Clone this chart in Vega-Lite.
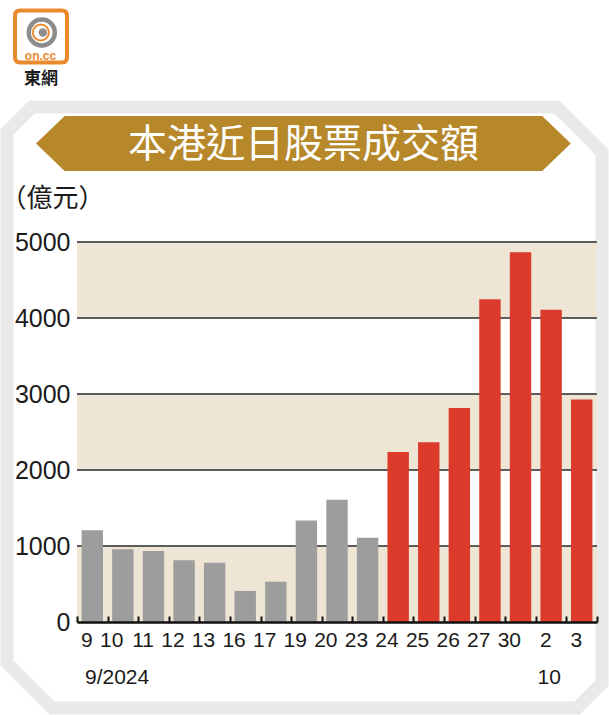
{
  "$schema": "https://vega.github.io/schema/vega-lite/v6.json",
  "width": 520,
  "height": 380,
  "autosize": {"type": "none"},
  "padding": {"left": 77, "top": 242, "right": 12, "bottom": 93},
  "background": "white",
  "config": {"view": {"stroke": null}},
  "datasets": {
    "turnover": [
      {"day": "9", "value": 1206, "phase": "before"},
      {"day": "10", "value": 956, "phase": "before"},
      {"day": "11", "value": 933, "phase": "before"},
      {"day": "12", "value": 811, "phase": "before"},
      {"day": "13", "value": 780, "phase": "before"},
      {"day": "16", "value": 408, "phase": "before"},
      {"day": "17", "value": 530, "phase": "before"},
      {"day": "19", "value": 1336, "phase": "before"},
      {"day": "20", "value": 1607, "phase": "before"},
      {"day": "23", "value": 1108, "phase": "before"},
      {"day": "24", "value": 2238, "phase": "after"},
      {"day": "25", "value": 2365, "phase": "after"},
      {"day": "26", "value": 2816, "phase": "after"},
      {"day": "27", "value": 4248, "phase": "after"},
      {"day": "30", "value": 4866, "phase": "after"},
      {"day": "2", "value": 4109, "phase": "after"},
      {"day": "3", "value": 2926, "phase": "after"}
    ],
    "bands": [{"lo": 0, "hi": 1000}, {"lo": 2000, "hi": 3000}, {"lo": 4000, "hi": 5000}],
    "grid": [{"v": 1000}, {"v": 2000}, {"v": 3000}, {"v": 4000}, {"v": 5000}],
    "mid": [{"day": "19"}],
    "first": [{"day": "9"}]
  },
  "layer": [
    {
      "data": {"name": "mid"},
      "mark": {"type": "point", "shape": "M-0.895,-0.987L0.829,-0.987L0.977,-0.839L0.977,0.905L0.895,0.987L-0.829,0.987L-0.977,0.839L-0.977,-0.905Z", "size": 370881, "filled": false, "stroke": "#e9e9e9", "strokeWidth": 13, "opacity": 1, "xOffset": -1.9},
      "encoding": {
        "x": {"field": "day", "type": "ordinal", "scale": {"domain": ["9","10","11","12","13","16","17","19","20","23","24","25","26","27","30","2","3"], "paddingInner": 0, "paddingOuter": 0}},
        "y": {"datum": 2822, "type": "quantitative", "scale": {"domain": [0, 5000], "nice": false, "zero": true}}
      }
    },
    {
      "data": {"name": "bands"},
      "mark": {"type": "rect", "color": "#efe5d5"},
      "encoding": {
        "y": {"field": "lo", "type": "quantitative", "scale": {"domain": [0, 5000], "nice": false, "zero": true}},
        "y2": {"field": "hi"}
      }
    },
    {
      "data": {"name": "grid"},
      "mark": {"type": "rule", "color": "#2a2a2a", "strokeWidth": 1.6},
      "encoding": {
        "y": {"field": "v", "type": "quantitative", "scale": {"domain": [0, 5000], "nice": false, "zero": true}}
      }
    },
    {
      "data": {"name": "turnover"},
      "mark": {"type": "bar", "width": {"band": 0.7}},
      "encoding": {
        "x": {
          "field": "day", "type": "ordinal",
          "scale": {"domain": ["9","10","11","12","13","16","17","19","20","23","24","25","26","27","30","2","3"], "paddingInner": 0, "paddingOuter": 0},
          "axis": {"title": null, "labelAngle": 0, "labelFont": "Liberation Sans Narrow, Liberation Sans, sans-serif", "labelFontSize": 21, "labelColor": "#1a1a1a", "labelPadding": 24, "tickBand": "extent", "tickSize": -6, "tickWidth": 2, "tickColor": "#111111", "domainColor": "#111111", "domainWidth": 2.5, "grid": false, "zindex": 2}
        },
        "y": {
          "field": "value", "type": "quantitative",
          "scale": {"domain": [0, 5000], "nice": false, "zero": true},
          "axis": {"title": "（億元）", "titleAngle": 0, "titleAlign": "left", "titleBaseline": "middle", "titleX": -77, "titleY": -44, "titleFont": "Noto Sans CJK TC", "titleFontSize": 26, "titleFontWeight": "normal", "titleColor": "#1a1a1a", "values": [0, 1000, 2000, 3000, 4000, 5000], "format": "d", "domain": false, "ticks": false, "grid": false, "labelFont": "Liberation Sans", "labelFontSize": 25, "labelColor": "#1a1a1a", "labelPadding": 7}
        },
        "color": {"field": "phase", "type": "nominal", "scale": {"domain": ["before", "after"], "range": ["#9d9d9d", "#dc3b2c"]}, "legend": null}
      }
    },
    {
      "data": {"name": "mid"},
      "mark": {"type": "point", "shape": "M-1,0L-0.893,-0.1028L0.893,-0.1028L1,0L0.893,0.1028L-0.893,0.1028Z", "size": 286011, "filled": true, "fill": "#b6882a", "opacity": 1, "strokeWidth": 0, "xOffset": -3},
      "encoding": {
        "x": {"field": "day", "type": "ordinal", "scale": {"domain": ["9","10","11","12","13","16","17","19","20","23","24","25","26","27","30","2","3"], "paddingInner": 0, "paddingOuter": 0}},
        "y": {"datum": 6296, "type": "quantitative", "scale": {"domain": [0, 5000], "nice": false, "zero": true}}
      }
    },
    {
      "data": {"name": "mid"},
      "mark": {"type": "text", "text": "本港近日股票成交額", "font": "Noto Sans CJK TC", "fontSize": 39, "color": "white", "align": "center", "baseline": "middle", "xOffset": -3, "dy": 1},
      "encoding": {
        "x": {"field": "day", "type": "ordinal", "scale": {"domain": ["9","10","11","12","13","16","17","19","20","23","24","25","26","27","30","2","3"], "paddingInner": 0, "paddingOuter": 0}},
        "y": {"datum": 6296, "type": "quantitative", "scale": {"domain": [0, 5000], "nice": false, "zero": true}}
      }
    },
    {
      "data": {"name": "first"},
      "mark": {"type": "point", "shape": "M-0.8,-1L0.8,-1Q1,-1 1,-0.8L1,0.8Q1,1 0.8,1L-0.8,1Q-1,1 -1,0.8L-1,-0.8Q-1,-1 -0.8,-1Z", "size": 2704, "filled": false, "stroke": "#ea8a2f", "strokeWidth": 4, "opacity": 1, "xOffset": -51.3},
      "encoding": {
        "x": {"field": "day", "type": "ordinal", "scale": {"domain": ["9","10","11","12","13","16","17","19","20","23","24","25","26","27","30","2","3"], "paddingInner": 0, "paddingOuter": 0}},
        "y": {"datum": 7704, "type": "quantitative", "scale": {"domain": [0, 5000], "nice": false, "zero": true}}
      }
    },
    {
      "data": {"name": "first"},
      "mark": {"type": "point", "shape": "circle", "size": 676, "filled": false, "stroke": "#8c8c8c", "strokeWidth": 4.5, "opacity": 1, "xOffset": -50.5, "yOffset": -4},
      "encoding": {
        "x": {"field": "day", "type": "ordinal", "scale": {"domain": ["9","10","11","12","13","16","17","19","20","23","24","25","26","27","30","2","3"], "paddingInner": 0, "paddingOuter": 0}},
        "y": {"datum": 7704, "type": "quantitative", "scale": {"domain": [0, 5000], "nice": false, "zero": true}}
      }
    },
    {
      "data": {"name": "first"},
      "mark": {"type": "point", "shape": "circle", "size": 256, "filled": false, "stroke": "#ea8a2f", "strokeWidth": 2, "opacity": 1, "xOffset": -51.5, "yOffset": -4},
      "encoding": {
        "x": {"field": "day", "type": "ordinal", "scale": {"domain": ["9","10","11","12","13","16","17","19","20","23","24","25","26","27","30","2","3"], "paddingInner": 0, "paddingOuter": 0}},
        "y": {"datum": 7704, "type": "quantitative", "scale": {"domain": [0, 5000], "nice": false, "zero": true}}
      }
    },
    {
      "data": {"name": "first"},
      "mark": {"type": "point", "shape": "circle", "size": 70, "filled": true, "fill": "#8c8c8c", "strokeWidth": 0, "opacity": 1, "xOffset": -49.5, "yOffset": -4},
      "encoding": {
        "x": {"field": "day", "type": "ordinal", "scale": {"domain": ["9","10","11","12","13","16","17","19","20","23","24","25","26","27","30","2","3"], "paddingInner": 0, "paddingOuter": 0}},
        "y": {"datum": 7704, "type": "quantitative", "scale": {"domain": [0, 5000], "nice": false, "zero": true}}
      }
    },
    {
      "data": {"name": "first"},
      "mark": {"type": "text", "text": "on.cc", "font": "Liberation Sans", "fontSize": 12, "fontWeight": "bold", "color": "#ea8a2f", "align": "center", "baseline": "middle", "xOffset": -51.8, "dy": 19.5},
      "encoding": {
        "x": {"field": "day", "type": "ordinal", "scale": {"domain": ["9","10","11","12","13","16","17","19","20","23","24","25","26","27","30","2","3"], "paddingInner": 0, "paddingOuter": 0}},
        "y": {"datum": 7704, "type": "quantitative", "scale": {"domain": [0, 5000], "nice": false, "zero": true}}
      }
    },
    {
      "data": {"name": "first"},
      "mark": {"type": "text", "text": "東網", "font": "Noto Sans CJK TC", "fontSize": 17, "fontWeight": "bold", "color": "#1a1a1a", "align": "center", "baseline": "middle", "xOffset": -51.3},
      "encoding": {
        "x": {"field": "day", "type": "ordinal", "scale": {"domain": ["9","10","11","12","13","16","17","19","20","23","24","25","26","27","30","2","3"], "paddingInner": 0, "paddingOuter": 0}},
        "y": {"datum": 7151, "type": "quantitative", "scale": {"domain": [0, 5000], "nice": false, "zero": true}}
      }
    },
    {
      "data": {"values": [{"day": "9", "label": "9/2024"}]},
      "mark": {"type": "text", "align": "left", "baseline": "middle", "dx": 8, "font": "Liberation Sans Narrow, Liberation Sans, sans-serif", "fontSize": 21, "color": "#1a1a1a"},
      "encoding": {
        "x": {"field": "day", "type": "ordinal", "bandPosition": 0, "scale": {"domain": ["9","10","11","12","13","16","17","19","20","23","24","25","26","27","30","2","3"], "paddingInner": 0, "paddingOuter": 0}},
        "y": {"datum": -737, "type": "quantitative", "scale": {"domain": [0, 5000], "nice": false, "zero": true}},
        "text": {"field": "label"}
      }
    },
    {
      "data": {"values": [{"day": "2", "label": "10"}]},
      "mark": {"type": "text", "align": "center", "baseline": "middle", "dx": -2, "font": "Liberation Sans Narrow, Liberation Sans, sans-serif", "fontSize": 21, "color": "#1a1a1a"},
      "encoding": {
        "x": {"field": "day", "type": "ordinal", "scale": {"domain": ["9","10","11","12","13","16","17","19","20","23","24","25","26","27","30","2","3"], "paddingInner": 0, "paddingOuter": 0}},
        "y": {"datum": -737, "type": "quantitative", "scale": {"domain": [0, 5000], "nice": false, "zero": true}},
        "text": {"field": "label"}
      }
    }
  ]
}
